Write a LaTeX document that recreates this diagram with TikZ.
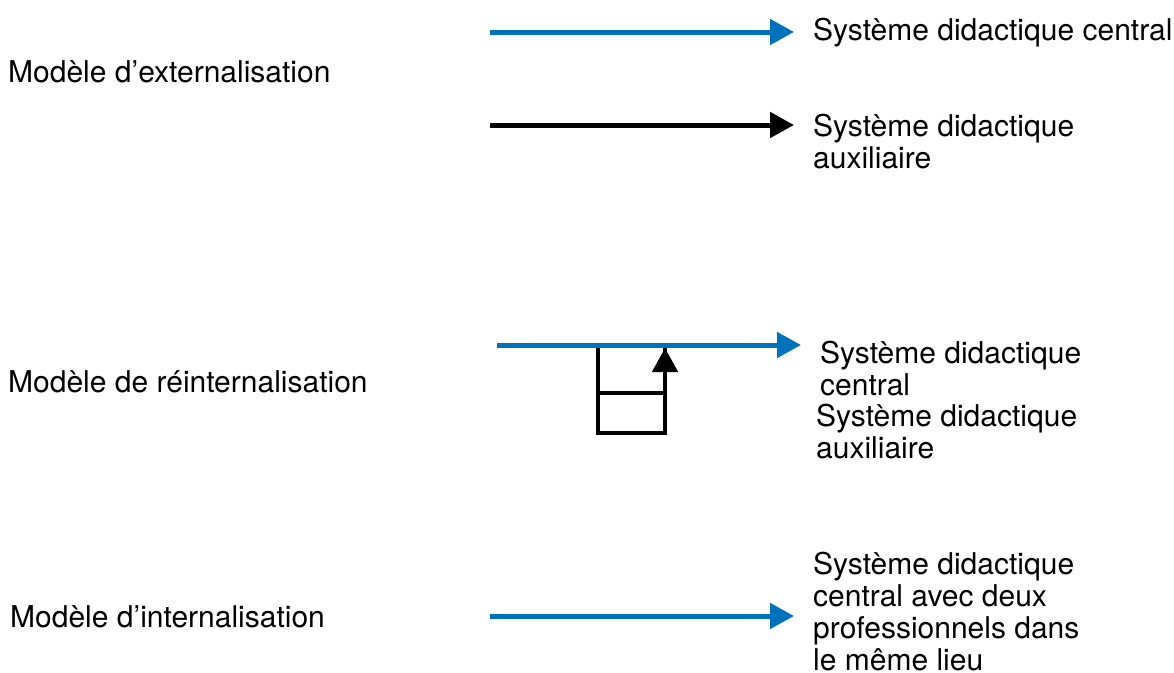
\documentclass[tikz,border=0pt]{standalone}
\usepackage{fontspec}
\setmainfont{TeX Gyre Heros}
\usetikzlibrary{arrows.meta}
\definecolor{arrowblue}{RGB}{0,114,188}
\tikzset{
  lbl/.style={anchor=base west, inner sep=0pt, font=\fontsize{30pt}{31.7pt}\selectfont, align=left},
  bluearrow/.style={draw=arrowblue, line width=5pt, -{Triangle[length=24pt,width=25pt]}},
  blackarrow/.style={draw=black, line width=5pt, -{Triangle[length=24pt,width=25pt]}},
  blackline/.style={draw=black, line width=4.8pt, line join=miter},
}
\begin{document}
\begin{tikzpicture}[x=1pt,y=-1pt]
\useasboundingbox (0,0) rectangle (1174,672);

% left labels
\node[lbl] (m1) at (8,82) {Modèle d’externalisation};
\node[lbl] (m2) at (8,392) {Modèle de réinternalisation};
\node[lbl] (m3) at (10,627) {Modèle d’internalisation};

% top
\coordinate (a1s) at (490,32);
\coordinate (a1e) at (794,32);
\draw[bluearrow] (a1s) -- (a1e);
\node[lbl] (t1) at (813,40) {Système didactique central};

\coordinate (a2s) at (490,125);
\coordinate (a2e) at (794,125);
\draw[blackarrow] (a2s) -- (a2e);
\node[lbl] (t2) at (813,168) {Système didactique\\auxiliaire};

% middle
\coordinate (b0) at (598,345);
\coordinate (b1) at (598,433);
\coordinate (b2) at (665,433);
\coordinate (b3) at (665,348);
\coordinate (c1) at (598,393);
\coordinate (c2) at (665,393);
\draw[blackline] (b0) -- (b1) -- (b2) -- (b3);
\draw[blackarrow, line width=4.8pt] (b2) -- (b3);
\draw[blackline] (c1) -- (c2);
\coordinate (a3s) at (497,345);
\coordinate (a3e) at (801,345);
\draw[bluearrow] (a3s) -- (a3e);
\node[lbl] (t3) at (820,395) {Système didactique\\central};
\node[lbl] (t4) at (816,458) {Système didactique\\auxiliaire};

% bottom
\coordinate (a4s) at (490,616);
\coordinate (a4e) at (794,616);
\draw[bluearrow] (a4s) -- (a4e);
\node[lbl] (t5) at (813,670) {Système didactique\\central avec deux\\professionnels dans\\le même lieu};
\end{tikzpicture}
\end{document}
